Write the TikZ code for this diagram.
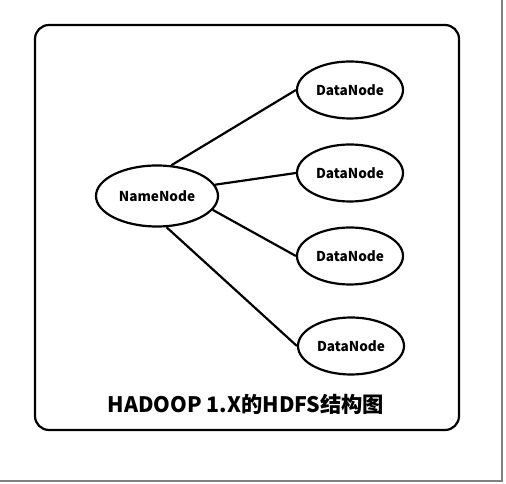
\documentclass[tikz,border=0pt]{standalone}
\usepackage{fontspec}
\setmainfont{Noto Sans CJK SC}
\usetikzlibrary{shapes.geometric}

\begin{document}
\begin{tikzpicture}[x=1pt, y=1pt,
    datanode/.style={draw, ellipse, line width=2.2pt, inner sep=0pt, minimum width=106pt, minimum height=57pt, font=\bfseries\fontsize{13.6}{16}\selectfont},
    namenode/.style={datanode, minimum width=122pt, minimum height=61pt},
    wire/.style={line width=2.2pt}]
      % Frame, nodes and wires:
      \useasboundingbox (0, 0) rectangle (506, 484);
      \draw[gray, line width=1.8pt] (502, 484) -- (502, 3) -- (0, 3);
      \draw[line width=2.2pt, rounded corners=14pt] (35, 459) rectangle (459, 54);
      \node[namenode](N1) at (157, 288){NameNode};
      \node[datanode](N2) at (350, 394){DataNode};
      \node[datanode](N3) at (350, 311){DataNode};
      \node[datanode](N4) at (350, 228){DataNode};
      \node[datanode](N5) at (351, 138){DataNode};
      \draw[wire] (N1.65) -- (N2.west);
      \draw[wire] (N1.11) -- (N3.west);
      \draw[wire] (N1.346) -- (N4.west);
      \draw[wire] (N1.287) -- (N5.west);
      \node[font=\bfseries\fontsize{21.3}{25}\selectfont](T1) at (246, 80){HADOOP 1.X的HDFS结构图};
    \end{tikzpicture}
\end{document}
